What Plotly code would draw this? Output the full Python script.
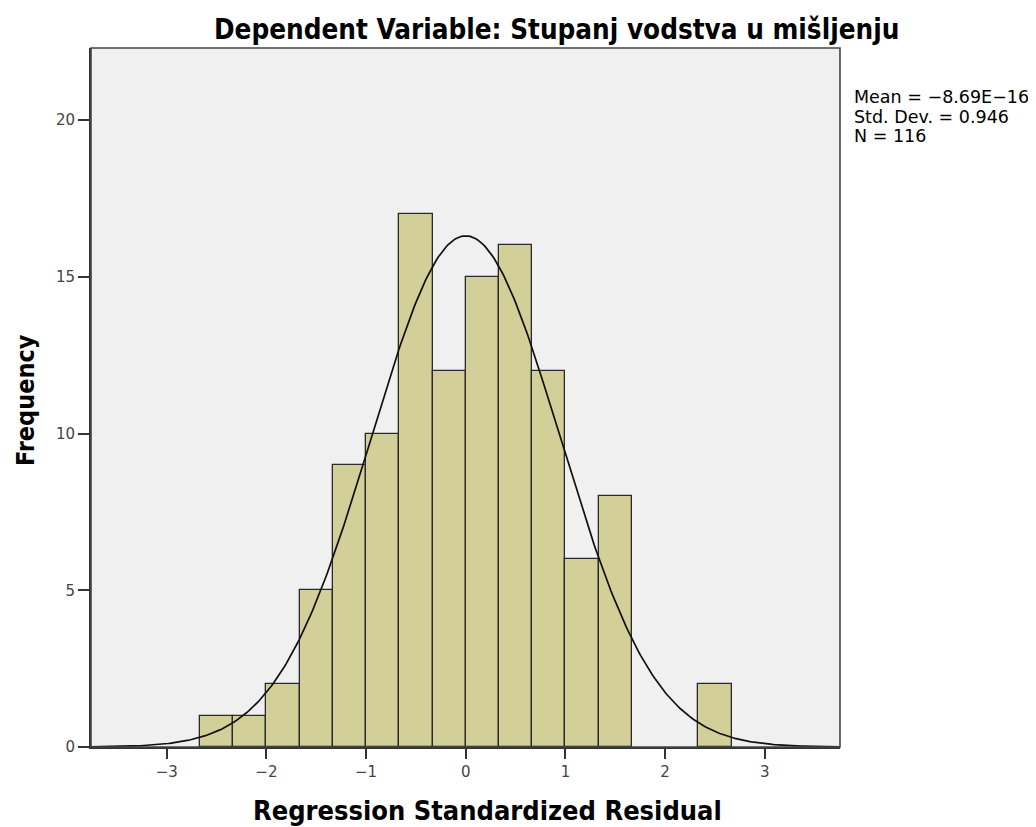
import numpy as np
import plotly.graph_objects as go

# Data
bin_start = -8 / 3
bin_width = 1 / 3
frequencies = [1, 1, 2, 5, 9, 10, 17, 12, 15, 16, 12, 6, 8, 0, 0, 2]
stat_mean = -8.69e-16
stat_sd = 0.946
stat_n = 116
x_ticks = [-3, -2, -1, 0, 1, 2, 3]
x_tick_labels = ["−3", "−2", "−1", "0", "1", "2", "3"]
y_ticks = [0, 5, 10, 15, 20]
stat_lines = ["Mean = −8.69E−16", f"Std. Dev. = {stat_sd}", f"N = {stat_n}"]

centers = [bin_start + bin_width * (i + 0.5) for i in range(len(frequencies))]
bx = [c for c, f in zip(centers, frequencies) if f > 0]
by = [f for f in frequencies if f > 0]

x_range = [-3.76, 3.755]
xs = np.linspace(x_range[0], x_range[1], 400)
ys = stat_n * bin_width * np.exp(-0.5 * ((xs - stat_mean) / stat_sd) ** 2) / (stat_sd * np.sqrt(2 * np.pi))

fig = go.Figure()
fig.add_trace(go.Bar(x=bx, y=by, width=bin_width,
                     marker=dict(color="#D3CF98", line=dict(color="#2a2a2a", width=1.3)),
                     hoverinfo="x+y"))
fig.add_trace(go.Scatter(x=xs, y=ys, mode="lines", line=dict(color="#111111", width=1.7)))

tickfont = dict(family="DejaVu Sans", size=15, color="#444444")
cond = "DejaVu Sans Condensed"

OFF = 8  # page body margin
W, H = 1036, 827
L, T = 91 - OFF, 48 - OFF
R, B = W - (840 - OFF), H - (747 - OFF)
pw, ph = W - L - R, H - T - B

def px_x(p):
    return (p - OFF - L) / pw

def px_y(p):
    return (H - B - (p - OFF)) / ph

annotations = [
    dict(xref="paper", yref="paper", x=px_x(556), y=px_y(30), xanchor="center", yanchor="middle",
         showarrow=False, text="<b>Dependent Variable: Stupanj vodstva u mišljenju</b>",
         font=dict(family=cond, size=27.6, color="black")),
    dict(xref="paper", yref="paper", x=px_x(487), y=px_y(810), xanchor="center", yanchor="middle",
         showarrow=False, text="<b>Regression Standardized Residual</b>",
         font=dict(family=cond, size=27, color="black")),
    dict(xref="paper", yref="paper", x=px_x(25), y=px_y(400), xanchor="center", yanchor="middle",
         showarrow=False, textangle=-90, text="<b>Frequency</b>",
         font=dict(family=cond, size=25, color="black")),
]
for i, line in enumerate(stat_lines):
    annotations.append(dict(xref="paper", yref="paper", x=px_x(852), y=px_y(97 + 19.5 * i),
                            xanchor="left", yanchor="middle", align="left", showarrow=False,
                            text=line, font=dict(family="DejaVu Sans", size=17.5, color="black")))

fig.update_layout(
    width=W, height=H,
    margin=dict(l=L, r=R, t=T, b=B, autoexpand=False),
    paper_bgcolor="white", plot_bgcolor="#F0F0F0",
    showlegend=False, bargap=0,
    xaxis=dict(range=x_range, tickvals=x_ticks, ticktext=x_tick_labels,
               ticks="outside", ticklen=10, tickcolor="#333333", tickwidth=1.5,
               showgrid=False, zeroline=False, showline=True, linecolor="#333333", linewidth=2,
               tickfont=tickfont, automargin=False),
    yaxis=dict(range=[0, 22.3], tickvals=y_ticks, ticks="outside", ticklen=11,
               tickcolor="#333333", tickwidth=1.5,
               showgrid=False, zeroline=False, showline=True, linecolor="#333333", linewidth=2,
               tickfont=tickfont, automargin=False),
    shapes=[dict(type="rect", xref="paper", yref="paper", x0=0, x1=1, y0=0, y1=1,
                 line=dict(color="#444444", width=1.6), layer="above")],
    annotations=annotations,
)
fig.write_html("out.html")
